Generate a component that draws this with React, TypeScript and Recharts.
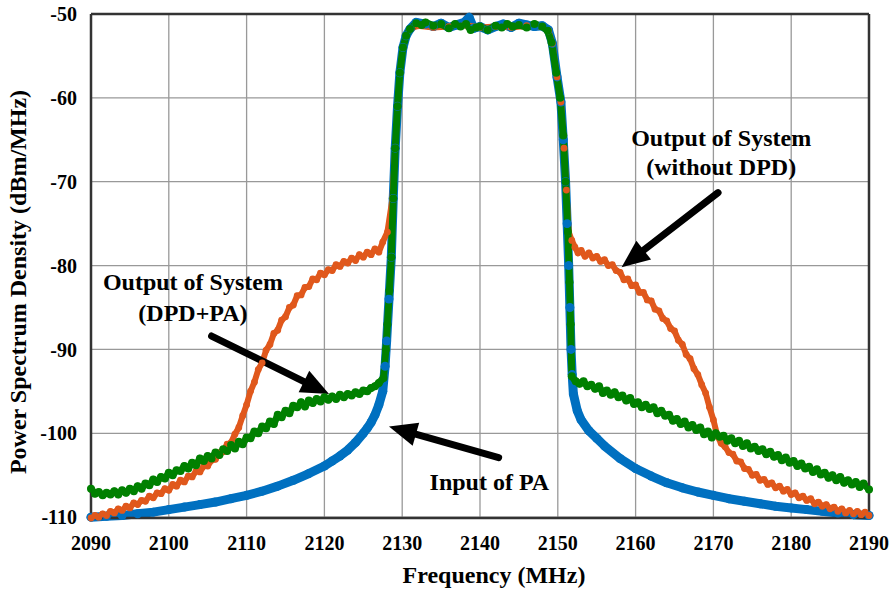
import { CartesianGrid, Line, LineChart, ReferenceDot, ReferenceLine, XAxis, YAxis } from "recharts"

const xTicks = [2090, 2100, 2110, 2120, 2130, 2140, 2150, 2160, 2170, 2180, 2190]
const yTicks = [-110, -100, -90, -80, -70, -60, -50]

// Input of PA
const blueFreq = [
  2090, 2092, 2094, 2096, 2098, 2100, 2102, 2104, 2106, 2108, 2110, 2112, 2114, 2116, 2118, 2120, 2121, 2122,
  2123, 2124, 2125, 2125.5, 2126, 2126.5, 2127, 2127.5, 2127.8, 2128, 2128.3, 2128.6, 2128.85, 2129.1, 2129.4,
  2129.7, 2130.1, 2130.5, 2131, 2131.8, 2133, 2134, 2135, 2136, 2137, 2138, 2138.6, 2139.2, 2140, 2141, 2142,
  2143, 2144, 2145, 2146, 2147, 2148, 2148.8, 2149.3, 2149.9, 2150.4, 2150.7, 2151, 2151.2, 2151.4, 2151.55,
  2151.7, 2151.85, 2152, 2152.5, 2153, 2154, 2155, 2156, 2158, 2160, 2162, 2164, 2166, 2168, 2170, 2172, 2174,
  2176, 2178, 2180, 2182, 2184, 2186, 2188, 2190,
]
const bluePsd = [
  -110.0, -109.9, -109.8, -109.6, -109.4, -109.1, -108.8, -108.5, -108.2, -107.8, -107.4, -106.9, -106.3, -105.6,
  -104.8, -103.9, -103.3, -102.7, -102.0, -101.1, -100.0, -99.4, -98.7, -97.8, -96.6, -95.0, -92.0, -89.0, -84.0,
  -79.0, -72.0, -66.0, -61.0, -57.0, -54.0, -52.6, -51.8, -51.0, -51.2, -51.5, -51.1, -51.6, -51.3, -51.0, -50.4,
  -51.7, -51.5, -51.9, -51.5, -51.2, -51.6, -51.1, -51.3, -51.5, -51.4, -51.9, -53.5, -57.5, -60.5, -65.0, -70.0,
  -75.0, -80.0, -85.0, -90.0, -93.0, -95.3, -97.3, -98.4, -99.7, -100.6, -101.5, -103.0, -104.2, -105.1, -105.9,
  -106.5, -107.0, -107.4, -107.8, -108.1, -108.4, -108.7, -108.9, -109.1, -109.3, -109.5, -109.7, -109.8,
]

// Output of System (without DPD)
const orangeFreq = [
  2090, 2090.5, 2091, 2091.5, 2092, 2092.5, 2093, 2093.5, 2094, 2094.5, 2095, 2095.5, 2096, 2096.5, 2097, 2097.5,
  2098, 2098.5, 2099, 2099.5, 2100, 2100.5, 2101, 2101.5, 2102, 2102.5, 2103, 2103.5, 2104, 2104.5, 2105, 2105.5,
  2106, 2106.5, 2107, 2107.5, 2108, 2108.5, 2109, 2109.5, 2110, 2110.5, 2111, 2111.5, 2112, 2112.5, 2113, 2113.5,
  2114, 2114.5, 2115, 2115.5, 2116, 2116.5, 2117, 2117.5, 2118, 2118.5, 2119, 2119.5, 2120, 2120.5, 2121, 2121.5,
  2122, 2122.5, 2123, 2123.5, 2124, 2124.5, 2125, 2125.5, 2126, 2126.5, 2127, 2127.5, 2128.1,
  2128.75, 2129.1, 2129.4, 2129.7, 2130.1, 2130.5, 2131, 2132, 2134, 2136, 2138, 2140, 2142, 2144, 2146, 2148,
  2148.8, 2149.3, 2149.9, 2150.4, 2150.8, 2151.1, 2151.4,
  2151.8, 2152.2, 2152.6, 2153, 2153.5, 2154, 2154.5, 2155, 2155.5, 2156, 2156.5, 2157, 2157.5, 2158, 2158.5,
  2159, 2159.5, 2160, 2160.5, 2161, 2161.5, 2162, 2162.5, 2163, 2163.5, 2164, 2164.5, 2165, 2165.5, 2166, 2166.5,
  2167, 2167.5, 2168, 2168.5, 2169, 2169.5, 2170, 2170.5, 2171, 2171.5, 2172, 2172.5, 2173, 2173.5, 2174, 2174.5,
  2175, 2175.5, 2176, 2176.5, 2177, 2177.5, 2178, 2178.5, 2179, 2179.5, 2180, 2180.5, 2181, 2181.5, 2182, 2182.5,
  2183, 2183.5, 2184, 2184.5, 2185, 2185.5, 2186, 2186.5, 2187, 2187.5, 2188, 2188.5, 2189, 2189.5, 2190,
]
const orangePsd = [
  -110.1, -109.8, -110.0, -109.6, -109.8, -109.3, -109.5, -109.0, -109.2, -108.7, -108.9, -108.3, -108.5, -108.0,
  -108.1, -107.5, -107.7, -107.1, -107.2, -106.6, -106.8, -106.1, -106.3, -105.6, -105.8, -105.1, -105.2, -104.5,
  -104.6, -103.9, -103.9, -103.2, -103.1, -102.3, -102.2, -101.3, -101.1, -100.1, -99.3, -97.9, -96.6, -95.0,
  -93.9, -92.4, -91.6, -90.1, -89.4, -88.1, -87.7, -86.5, -86.1, -85.0, -84.7, -83.6, -83.5, -82.6, -82.5, -81.6,
  -81.7, -80.9, -81.1, -80.5, -80.6, -79.9, -80.1, -79.5, -79.7, -79.1, -79.4, -78.7, -79.0, -78.4, -78.7, -78.0,
  -78.4, -77.2, -76.0,
  -72.0, -66.0, -61.0, -57.0, -54.0, -52.6, -51.8, -51.4, -51.6, -51.5, -51.3, -51.6, -51.5, -51.6, -51.4, -51.5,
  -52.0, -53.5, -57.5, -60.5, -66.0, -71.0, -76.0,
  -77.0, -77.8, -78.5, -78.2, -78.9, -78.5, -79.1, -78.9, -79.5, -79.3, -80.0, -79.9, -80.6, -80.8, -81.7,
  -81.6, -82.4, -82.3, -83.2, -83.2, -84.1, -84.2, -85.2, -85.4, -86.3, -86.6, -87.5, -87.8, -88.9, -89.4, -90.6,
  -91.1, -92.3, -93.0, -94.2, -95.2, -96.9, -98.4, -100.3, -101.2, -101.6, -102.3, -102.5, -103.3, -103.4, -104.2,
  -104.3, -105.0, -104.9, -105.6, -105.5, -106.1, -105.9, -106.5, -106.3, -106.9, -106.7, -107.3, -107.1, -107.7,
  -107.5, -108.0, -107.8, -108.4, -108.2, -108.7, -108.5, -109.0, -108.8, -109.3, -109.0, -109.5, -109.2, -109.6,
  -109.3, -109.7, -109.4, -109.8, -109.5, -109.7,
]

// Output of System (DPD+PA)
const greenFreq = [
  2090, 2090.5, 2091, 2091.5, 2092, 2092.5, 2093, 2093.5, 2094, 2094.5, 2095, 2095.5, 2096, 2096.5, 2097, 2097.5,
  2098, 2098.5, 2099, 2099.5, 2100, 2100.5, 2101, 2101.5, 2102, 2102.5, 2103, 2103.5, 2104, 2104.5, 2105, 2105.5,
  2106, 2106.5, 2107, 2107.5, 2108, 2108.5, 2109, 2109.5, 2110, 2110.5, 2111, 2111.5, 2112, 2112.5, 2113, 2113.5,
  2114, 2114.5, 2115, 2115.5, 2116, 2116.5, 2117, 2117.5, 2118, 2118.5, 2119, 2119.5, 2120, 2120.5, 2121, 2121.5,
  2122, 2122.5, 2123, 2123.5, 2124, 2124.5, 2125, 2125.5, 2126, 2126.5, 2127, 2127.6,
  2127.9, 2128.1, 2128.35, 2128.6, 2128.85, 2129.1, 2129.4, 2129.7, 2130.1, 2130.5, 2131,
  2131.8, 2132.5, 2133, 2134, 2135, 2136, 2136.8, 2137.5, 2138.2, 2138.8, 2139.5, 2140, 2141, 2142, 2142.8,
  2143.5, 2144.2, 2145, 2146, 2147, 2148, 2148.7, 2149.2, 2149.8, 2150.3, 2150.7, 2151, 2151.3, 2151.5, 2151.65,
  2151.8, 2152.3, 2152.8, 2153.3, 2153.8, 2154.3, 2154.8, 2155.3, 2155.8, 2156.3, 2156.8, 2157.3, 2157.8, 2158.3,
  2158.8, 2159.3, 2159.8, 2160.3, 2160.8, 2161.3, 2161.8, 2162.3, 2162.8, 2163.3, 2163.8, 2164.3, 2164.8, 2165.3,
  2165.8, 2166.3, 2166.8, 2167.3, 2167.8, 2168.3, 2168.8, 2169.3, 2169.8, 2170.3, 2170.8, 2171.3, 2171.8, 2172.3,
  2172.8, 2173.3, 2173.8, 2174.3, 2174.8, 2175.3, 2175.8, 2176.3, 2176.8, 2177.3, 2177.8, 2178.3, 2178.8, 2179.3,
  2179.8, 2180.3, 2180.8, 2181.3, 2181.8, 2182.3, 2182.8, 2183.3, 2183.8, 2184.3, 2184.8, 2185.3, 2185.8, 2186.3,
  2186.8, 2187.3, 2187.8, 2188.3, 2188.8, 2189.3, 2190,
]
const greenPsd = [
  -106.6, -107.2, -107.0, -107.4, -107.1, -107.3, -106.9, -107.3, -106.8, -107.1, -106.6, -106.9, -106.3, -106.6,
  -106.0, -106.2, -105.5, -105.8, -105.2, -105.4, -104.7, -105.0, -104.4, -104.5, -103.9, -104.2, -103.5, -103.8,
  -103.0, -103.3, -102.7, -103.0, -102.3, -102.6, -101.9, -102.1, -101.4, -101.8, -101.0, -101.3, -100.5, -100.6,
  -99.8, -100.0, -99.2, -99.4, -98.6, -98.9, -97.8, -98.1, -97.3, -97.6, -96.7, -96.9, -96.3, -96.8, -96.1, -96.4,
  -95.9, -96.2, -95.7, -96.0, -95.6, -95.9, -95.4, -95.7, -95.3, -95.5, -95.1, -95.3, -94.9, -95.0, -94.6, -94.4,
  -94.0, -93.4,
  -90.0, -87.0, -83.0, -79.0, -72.0, -66.0, -61.0, -57.0, -54.0, -52.6, -51.8,
  -51.1, -51.3, -51.0, -51.4, -51.2, -51.7, -51.2, -51.5, -51.2, -51.9, -51.6, -51.5, -51.9, -51.4, -51.6,
  -51.2, -51.5, -51.3, -51.6, -51.2, -51.5, -52.0, -53.4, -57.0, -60.0, -64.5, -70.0, -76.0, -82.0, -87.0,
  -93.2, -93.8, -94.1, -93.8, -94.4, -94.2, -94.7, -94.4, -95.2, -94.9, -95.4, -95.1, -95.7, -95.5,
  -96.1, -95.8, -96.5, -96.3, -96.9, -96.6, -97.1, -96.9, -97.6, -97.3, -97.9, -97.8, -98.5, -98.3,
  -98.9, -98.6, -99.3, -99.0, -99.6, -99.3, -100.1, -99.8, -100.5, -100.0, -100.4, -100.3, -100.9, -100.6,
  -101.2, -100.9, -101.5, -101.2, -101.8, -101.6, -102.1, -101.9, -102.5, -102.2, -102.8, -102.6, -103.2, -102.9,
  -103.5, -103.3, -103.9, -103.6, -104.2, -104.0, -104.6, -104.3, -104.9, -104.7, -105.3, -105.0, -105.6, -105.2,
  -105.9, -105.6, -106.1, -105.8, -106.4, -106.0, -106.7,
]

// annotation text, anchored in data units
const noteText = ["Output of System", "(without DPD)", "Output of System", "(DPD+PA)", "Input of PA"]
const noteFreq = [2171, 2171, 2103.1, 2103.1, 2141.2]
const notePsd = [-64.8, -68.3, -82.0, -85.6, -105.8]

// arrows: [from, to]
const arrowFrom = [
  { f: 2170.6, v: -71.3 },
  { f: 2105.5, v: -88.4 },
  { f: 2142.4, v: -102.9 },
]
const arrowTo = [
  { f: 2158.2, v: -80.2 },
  { f: 2120.6, v: -95.3 },
  { f: 2128.3, v: -99.2 },
]

const toRows = (fs: number[], vs: number[]) => fs.map((f, i) => ({ f, v: vs[i] }))
const blue = toRows(blueFreq, bluePsd)
const orange = toRows(orangeFreq, orangePsd)
const green = toRows(greenFreq, greenPsd)

const FONT = "'Liberation Serif', 'Times New Roman', serif"
const FRAME = "#333"

const Arrow = (p: any) => {
  const { x1, y1, x2, y2 } = p
  const dx = x2 - x1
  const dy = y2 - y1
  const len = Math.hypot(dx, dy)
  const ux = dx / len
  const uy = dy / len
  const head = 28
  const half = 12
  const bx = x2 - ux * head
  const by = y2 - uy * head
  return (
    <g>
      <line x1={x1} y1={y1} x2={bx + ux * 4} y2={by + uy * 4} stroke="#000" strokeWidth={7} strokeLinecap="round" />
      <polygon points={`${x2},${y2} ${bx - uy * half},${by + ux * half} ${bx + uy * half},${by - ux * half}`} fill="#000" />
    </g>
  )
}

const tickStyle = { fill: "#000", fontSize: 20, fontWeight: 700, fontFamily: FONT }

export default function App() {
  return (
    <div style={{ position: "absolute", left: 0, top: 0, background: "#fff" }}>
      <LineChart width={894} height={591} margin={{ top: 14, right: 25, bottom: 13, left: 0 }}>
        <CartesianGrid stroke="#999" strokeWidth={1.3} />
        <XAxis
          type="number"
          dataKey="f"
          domain={[2090, 2190]}
          ticks={xTicks}
          height={60}
          tickSize={0}
          tickMargin={18}
          tickLine={false}
          axisLine={{ stroke: FRAME, strokeWidth: 2.5 }}
          tick={tickStyle}
          label={{
            content: ({ viewBox }: any) => (
              <text
                x={viewBox.x + viewBox.width / 2 + 14}
                y={viewBox.y + 65}
                textAnchor="middle"
                fontSize={24}
                fontWeight={700}
                fontFamily={FONT}
                fill="#000"
              >
                Frequency (MHz)
              </text>
            ),
          }}
        />
        <YAxis
          type="number"
          domain={[-110, -50]}
          ticks={yTicks}
          width={91}
          tickSize={0}
          tickMargin={14}
          tickLine={false}
          axisLine={{ stroke: FRAME, strokeWidth: 2.5 }}
          tick={tickStyle}
          label={{
            content: ({ viewBox }: any) => {
              const cx = viewBox.x + 26
              const cy = viewBox.y + viewBox.height / 2 + 16
              return (
                <text
                  x={cx}
                  y={cy}
                  transform={`rotate(-90, ${cx}, ${cy})`}
                  textAnchor="middle"
                  fontSize={24}
                  fontWeight={700}
                  fontFamily={FONT}
                  fill="#000"
                >
                  Power Spectrum Density (dBm/MHz)
                </text>
              )
            },
          }}
        />
        {/* inward ticks + frame on all four sides */}
        <XAxis xAxisId="top" orientation="top" mirror type="number" domain={[2090, 2190]} allowDataOverflow
          ticks={xTicks} tick={false} tickSize={7} tickLine={{ stroke: FRAME, strokeWidth: 2 }}
          axisLine={{ stroke: FRAME, strokeWidth: 2.5 }} />
        <XAxis xAxisId="bottomIn" orientation="bottom" mirror type="number" domain={[2090, 2190]} allowDataOverflow
          ticks={xTicks} tick={false} tickSize={7} tickLine={{ stroke: FRAME, strokeWidth: 2 }} axisLine={false} />
        <YAxis yAxisId="right" orientation="right" mirror type="number" domain={[-110, -50]} allowDataOverflow
          ticks={yTicks} tick={false} tickSize={7} tickLine={{ stroke: FRAME, strokeWidth: 2 }}
          axisLine={{ stroke: FRAME, strokeWidth: 2.5 }} />
        <YAxis yAxisId="leftIn" orientation="left" mirror type="number" domain={[-110, -50]} allowDataOverflow
          ticks={yTicks} tick={false} tickSize={7} tickLine={{ stroke: FRAME, strokeWidth: 2 }} axisLine={false} />

        <Line data={blue} dataKey="v" type="linear" stroke="#0070C0" strokeWidth={9} strokeLinejoin="round"
          strokeLinecap="round" dot={{ r: 4.5, fill: "#0070C0", stroke: "none" }} isAnimationActive={false} />
        <Line data={orange} dataKey="v" type="linear" stroke="#E0581C" strokeWidth={6} strokeLinejoin="round"
          strokeLinecap="round" dot={{ r: 3.4, fill: "#E0581C", stroke: "none" }} isAnimationActive={false} />
        <Line data={green} dataKey="v" type="linear" stroke="#008000" strokeWidth={7} strokeLinejoin="round"
          strokeLinecap="round" dot={{ r: 4, fill: "#008000", stroke: "none" }} isAnimationActive={false} />

        {arrowFrom.map((a, i) => (
          <ReferenceLine
            key={`arrow-${i}`}
            segment={[{ x: a.f, y: a.v }, { x: arrowTo[i].f, y: arrowTo[i].v }]}
            shape={(p: any) => <Arrow {...p} />}
          />
        ))}
        {noteText.map((t, i) => (
          <ReferenceDot
            key={`note-${i}`}
            x={noteFreq[i]}
            y={notePsd[i]}
            r={0}
            shape={(p: any) => (
              <text x={p.cx} y={p.cy + 8} textAnchor="middle" fontSize={24} fontWeight={700} fontFamily={FONT} fill="#000">
                {t}
              </text>
            )}
          />
        ))}
      </LineChart>
    </div>
  )
}
